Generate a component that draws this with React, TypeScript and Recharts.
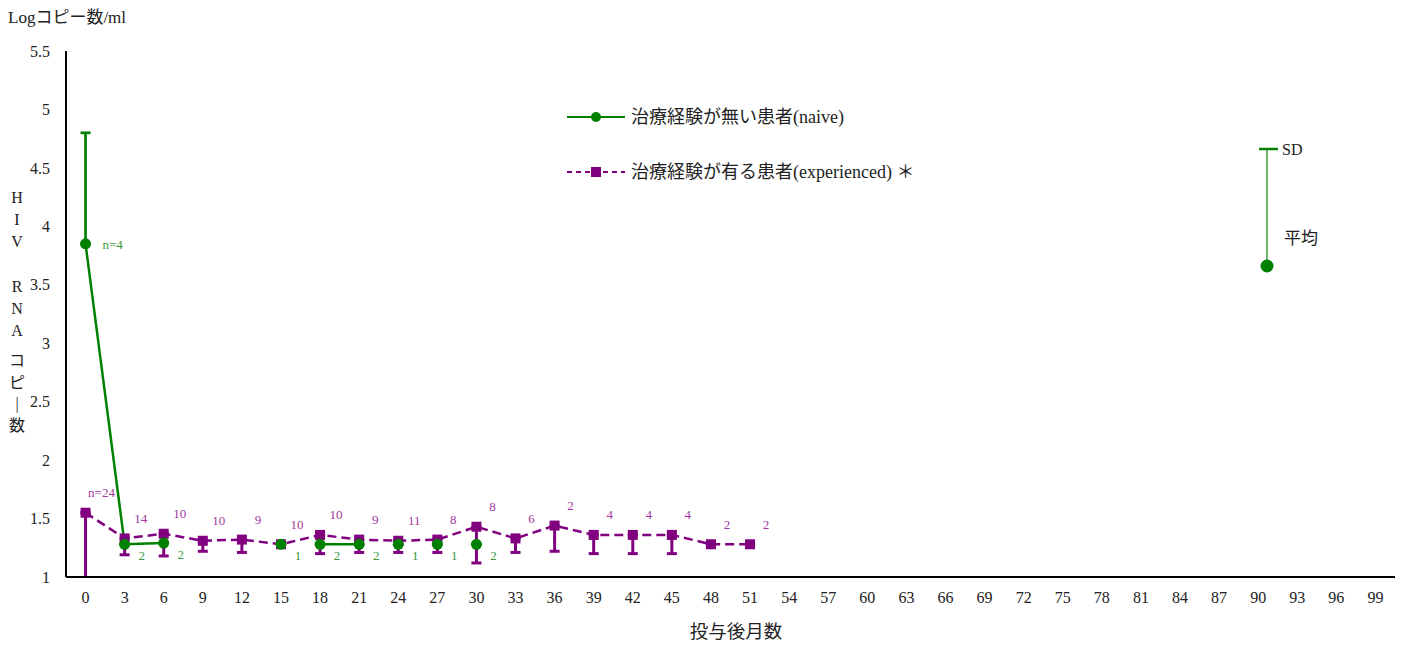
import React from "react";
import { LineChart, Line, XAxis, YAxis, ErrorBar, LabelList } from "recharts";

const FONT = "'Liberation Serif', 'Noto Sans CJK JP', serif";
const GREEN = "#008000";
const PURPLE = "#800080";

// months after dosing (x categories)
const xTicks = [
  0, 3, 6, 9, 12, 15, 18, 21, 24, 27, 30, 33, 36, 39, 42, 45, 48, 51, 54, 57,
  60, 63, 66, 69, 72, 75, 78, 81, 84, 87, 90, 93, 96, 99,
];
const yTicks = [1, 1.5, 2, 2.5, 3, 3.5, 4, 4.5, 5, 5.5];

// experienced patients
const expMonths = [0, 3, 6, 9, 12, 15, 18, 21, 24, 27, 30, 33, 36, 39, 42, 45, 48, 51];
const expMean = [1.55, 1.33, 1.37, 1.31, 1.32, 1.28, 1.36, 1.32, 1.31, 1.32, 1.43, 1.33, 1.44, 1.36, 1.36, 1.36, 1.28, 1.28];
const expSdLow = [0.55, 0.14, 0.19, 0.09, 0.11, 0, 0.16, 0.11, 0.1, 0.11, 0.31, 0.12, 0.22, 0.16, 0.16, 0.16, 0, 0];
const expN = ["n=24", "14", "10", "10", "9", "10", "10", "9", "11", "8", "8", "6", "2", "4", "4", "4", "2", "2"];

// naive patients
const naiveMonths = [0, 3, 6, 15, 18, 21, 24, 27, 30];
const naiveMean = [3.85, 1.28, 1.29, 1.28, 1.28, 1.28, 1.28, 1.28, 1.28];
const naiveSdHigh = [0.95, 0, 0, 0, 0, 0, 0, 0, 0];
const naiveN = ["n=4", "2", "2", "1", "2", "2", "1", "1", "2"];
const naiveJoined = [
  [0, 3, 6],
  [18, 21],
];

const boundaryTicks = [-1.5, ...xTicks.map((t) => t + 1.5)];

const expData = expMonths.map((m, i) => ({
  month: m,
  value: expMean[i],
  // the month-0 bar runs off the axis, it is drawn separately without a cap
  err: [i === 0 ? 0 : expSdLow[i], 0],
  n: expN[i],
}));
const expFirst = [{ month: expMonths[0], value: expMean[0], err: [expSdLow[0], 0] }];
const naiveData = naiveMonths.map((m, i) => ({
  month: m,
  value: naiveMean[i],
  err: [0, naiveSdHigh[i]],
  n: naiveN[i],
}));
const naiveSegments = naiveJoined.map((seg) => naiveData.filter((d) => seg.includes(d.month)));

const SquareDot = (p: any) => {
  if (p.cx == null || p.cy == null) return <g key={p.key} />;
  return <rect key={p.key} x={p.cx - 5} y={p.cy - 5} width={10} height={10} fill={PURPLE} />;
};

const pos = (p: any) => {
  const vb = p.viewBox || {};
  return { x: p.x ?? vb.x, y: p.y ?? vb.y };
};

const ExpLabel = (p: any) => {
  const { x, y } = pos(p);
  return (
    <text x={x + 16} y={y - 20} textAnchor="middle" dominantBaseline="central" fill="#a0399f" fontSize={13} fontFamily={FONT}>
      {p.value}
    </text>
  );
};

const NaiveLabel = (p: any) => {
  const { x, y } = pos(p);
  const first = p.index === 0;
  return (
    <text
      x={x + 17}
      y={first ? y + 1 : y + 11}
      textAnchor={first ? "start" : "middle"}
      dominantBaseline="central"
      fill="#3c9a3c"
      fontSize={13}
      fontFamily={FONT}
    >
      {p.value}
    </text>
  );
};

const vertical = [
  ["H", 197], ["I", 219], ["V", 241],
  ["R", 286], ["N", 308], ["A", 330],
  ["コ", 360], ["ピ", 382], ["|", 403], ["数", 425],
] as const;

export default function App() {
  return (
    <div style={{ position: "absolute", left: 0, top: 0, width: 1404, height: 646, background: "#fff" }}>
      <LineChart width={1404} height={646} margin={{ top: 51, right: 9, bottom: 9, left: 10 }}>
        <XAxis
          xAxisId="m"
          dataKey="month"
          type="number"
          domain={[-1.5, 100.5]}
          ticks={xTicks}
          interval={0}
          tickLine={false}
          tickMargin={9}
          axisLine={{ stroke: "#000", strokeWidth: 2 }}
          tick={{ fill: "#222", fontSize: 16, fontFamily: FONT }}
          height={60}
        />
        <XAxis
          xAxisId="b"
          dataKey="month"
          type="number"
          domain={[-1.5, 100.5]}
          ticks={boundaryTicks}
          interval={0}
          mirror
          tick={false}
          axisLine={false}
          tickLine={{ stroke: "#c8c8c8" }}
          tickSize={4}
          height={0}
        />
        <YAxis
          yAxisId="v"
          type="number"
          domain={[1, 5.5]}
          ticks={yTicks}
          interval={0}
          allowDataOverflow
          tickLine={false}
          tickMargin={10}
          axisLine={{ stroke: "#000", strokeWidth: 2 }}
          tick={{ fill: "#222", fontSize: 16, fontFamily: FONT }}
          width={56}
        />
        <YAxis
          yAxisId="g"
          type="number"
          domain={[1, 5.5]}
          ticks={yTicks}
          interval={0}
          mirror
          tick={false}
          axisLine={false}
          tickLine={{ stroke: "#c8c8c8" }}
          tickSize={4}
          width={0}
        />

        {naiveSegments.map((seg, i) => (
          <Line
            key={"seg" + i}
            xAxisId="m"
            yAxisId="v"
            data={seg}
            dataKey="value"
            stroke={GREEN}
            strokeWidth={2.5}
            dot={false}
            isAnimationActive={false}
          />
        ))}

        <Line
          xAxisId="m"
          yAxisId="v"
          data={expFirst}
          dataKey="value"
          stroke="none"
          dot={false}
          isAnimationActive={false}
        >
          <ErrorBar dataKey="err" direction="y" width={0} stroke={PURPLE} strokeWidth={3} />
        </Line>

        <Line
          xAxisId="m"
          yAxisId="v"
          data={expData}
          dataKey="value"
          stroke={PURPLE}
          strokeWidth={2.5}
          strokeDasharray="9 5"
          dot={SquareDot}
          isAnimationActive={false}
        >
          <ErrorBar dataKey="err" direction="y" width={5} stroke={PURPLE} strokeWidth={3} />
          <LabelList dataKey="n" content={ExpLabel} />
        </Line>

        <Line
          xAxisId="m"
          yAxisId="v"
          data={naiveData}
          dataKey="value"
          stroke="none"
          dot={{ r: 5.5, fill: GREEN, stroke: "none" }}
          isAnimationActive={false}
        >
          <ErrorBar dataKey="err" direction="y" width={5} stroke={GREEN} strokeWidth={2.7} />
          <LabelList dataKey="n" content={NaiveLabel} />
        </Line>
      </LineChart>

      <svg
        width={1404}
        height={646}
        style={{ position: "absolute", left: 0, top: 0, pointerEvents: "none" }}
        fontFamily={FONT}
      >
        <text x={8} y={17} dominantBaseline="central" fontSize={17} fill="#222">
          Logコピー数/ml
        </text>
        {vertical.map(([ch, y]) => (
          <text key={ch + y} x={17} y={y} textAnchor="middle" dominantBaseline="central" fontSize={16} fill="#222">
            {ch}
          </text>
        ))}
        <text x={736} y={632} textAnchor="middle" dominantBaseline="central" fontSize={18.5} fill="#222">
          投与後月数
        </text>

        {/* series legend */}
        <line x1={567} x2={625} y1={117} y2={117} stroke={GREEN} strokeWidth={2} />
        <circle cx={596} cy={117} r={5} fill={GREEN} />
        <text x={631} y={117} dominantBaseline="central" fontSize={18} fill="#222">
          治療経験が無い患者(naive)
        </text>
        <line x1={567} x2={625} y1={172} y2={172} stroke={PURPLE} strokeWidth={2} strokeDasharray="5 4" />
        <rect x={591} y={167} width={10} height={10} fill={PURPLE} />
        <text x={631} y={172} dominantBaseline="central" fontSize={18} fill="#222">
          治療経験が有る患者(experienced) ＊
        </text>

        {/* mean / SD key */}
        <line x1={1267} x2={1267} y1={149} y2={266} stroke="#3aa53a" strokeWidth={1.5} />
        <line x1={1259} x2={1278} y1={149} y2={149} stroke={GREEN} strokeWidth={2.5} />
        <circle cx={1267} cy={266} r={6.5} fill={GREEN} />
        <text x={1282} y={149} dominantBaseline="central" fontSize={16} fill="#222">
          SD
        </text>
        <text x={1284} y={238} dominantBaseline="central" fontSize={17} fill="#222">
          平均
        </text>
      </svg>
    </div>
  );
}
